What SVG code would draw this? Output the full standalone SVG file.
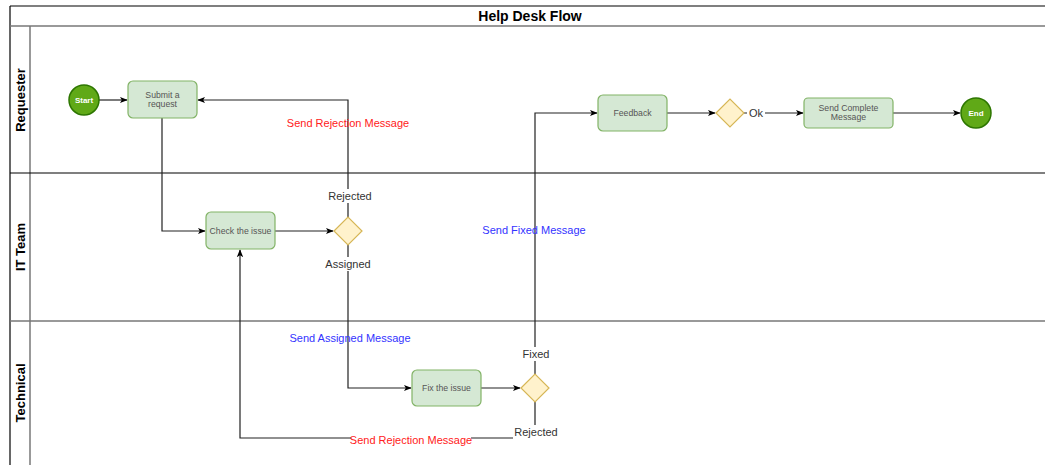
<svg xmlns="http://www.w3.org/2000/svg" width="1045" height="465" viewBox="0 0 1045 465">
<style>
.lane{fill:none;stroke:#000;stroke-width:1.2}
.lg{fill:none;stroke:#777;stroke-width:1.5}
.lt{font-family:"Liberation Sans",Arial,sans-serif;font-weight:bold;font-size:13px;fill:#000;text-anchor:middle}
.task{fill:#d5e8d4;stroke:#82b366;stroke-width:1.2}
.tt{font-family:"Liberation Sans",Arial,sans-serif;font-size:8.7px;fill:#555;text-anchor:middle}
.gw{fill:#fff2cc;stroke:#d6b656;stroke-width:1.2}
.ev{fill:#60a917;stroke:#2d7600;stroke-width:1.5}
.et{font-family:"Liberation Sans",Arial,sans-serif;font-size:8px;font-weight:bold;fill:#fff;text-anchor:middle}
.c{fill:none;stroke:#222;stroke-width:1.2}
.lb{font-family:"Liberation Sans",Arial,sans-serif;font-size:11px;text-anchor:middle}
.k{fill:#333}
.r{fill:#ff2020}
.b{fill:#3333ff}
</style>
<defs>
<marker id="ah" viewBox="0 0 10 10" refX="9" refY="5" markerWidth="8" markerHeight="8" markerUnits="userSpaceOnUse" orient="auto">
<path d="M0,1 L10,5 L0,9 L2.5,5 Z" fill="#000"/>
</marker>
</defs>
<rect x="0" y="0" width="1045" height="465" fill="#fff"/>
<g id="pool">
<line class="lane" x1="10" y1="6" x2="1045" y2="6"/>
<line class="lane" x1="10" y1="6" x2="10" y2="465"/>
<line class="lg" x1="10" y1="26" x2="1045" y2="26"/>
<line class="lg" x1="30" y1="26" x2="30" y2="465"/>
<line class="lane" x1="10" y1="173" x2="1045" y2="173"/>
<line class="lg" x1="10" y1="321" x2="1045" y2="321"/>
<text x="530" y="21" font-family="'Liberation Sans',Arial,sans-serif" font-size="14" font-weight="bold" text-anchor="middle">Help Desk Flow</text>
<text class="lt" transform="translate(25,100) rotate(-90)">Requester</text>
<text class="lt" transform="translate(25,247) rotate(-90)">IT Team</text>
<text class="lt" transform="translate(25,393) rotate(-90)">Technical</text>
</g>
<g id="connectors">
<line class="c" x1="99" y1="100" x2="127" y2="100" marker-end="url(#ah)"/>
<path class="c" d="M348,217 L348,100 L198,100" marker-end="url(#ah)"/>
<path class="c" d="M162,118 L162,231 L205,231" marker-end="url(#ah)"/>
<line class="c" x1="275" y1="231" x2="333" y2="231" marker-end="url(#ah)"/>
<path class="c" d="M348,245 L348,388 L411,388" marker-end="url(#ah)"/>
<line class="c" x1="481" y1="388" x2="520" y2="388" marker-end="url(#ah)"/>
<path class="c" d="M535,374 L535,113 L597,113" marker-end="url(#ah)"/>
<path class="c" d="M535,402 L535,438 L240,438 L240,250" marker-end="url(#ah)"/>
<line class="c" x1="667" y1="113" x2="715" y2="113" marker-end="url(#ah)"/>
<line class="c" x1="744" y1="113" x2="803" y2="113" marker-end="url(#ah)"/>
<line class="c" x1="893" y1="113" x2="960" y2="113" marker-end="url(#ah)"/>
<text class="lb r" x="348" y="127">Send Rejection Message</text>
<rect x="328" y="189" width="44" height="14" fill="#fff"/>
<text class="lb k" x="350" y="200">Rejected</text>
<rect x="324" y="257" width="48" height="14" fill="#fff"/>
<text class="lb k" x="348" y="268">Assigned</text>
<text class="lb b" x="350" y="342">Send Assigned Message</text>
<text class="lb b" x="534" y="234">Send Fixed Message</text>
<rect x="520" y="347" width="30" height="14" fill="#fff"/>
<text class="lb k" x="536" y="358">Fixed</text>
<rect x="513" y="425" width="46" height="14" fill="#fff"/>
<text class="lb k" x="536" y="436">Rejected</text>
<rect x="351" y="433" width="120" height="14" fill="#fff"/>
<text class="lb r" x="411" y="444">Send Rejection Message</text>
<rect x="747" y="106" width="18" height="14" fill="#fff"/>
<text class="lb k" x="756" y="117">Ok</text>
</g>
<g id="start"><circle class="ev" cx="84" cy="100" r="15"/><text class="et" x="84" y="103">Start</text></g>
<g id="submit"><rect class="task" x="128" y="81" width="69" height="37" rx="5"/><text class="tt" x="162.5" y="98">Submit a</text><text class="tt" x="162.5" y="107">request</text></g>
<g id="check"><rect class="task" x="206" y="212" width="69" height="37" rx="5"/><text class="tt" x="240.5" y="234">Check the issue</text></g>
<g id="gw1"><path class="gw" d="M334,231 L348,217 L362,231 L348,245 Z"/></g>
<g id="fix"><rect class="task" x="412" y="370" width="69" height="36" rx="5"/><text class="tt" x="446.5" y="391">Fix the issue</text></g>
<g id="gw2"><path class="gw" d="M521,388 L535,374 L549,388 L535,402 Z"/></g>
<g id="feedback"><rect class="task" x="598" y="95" width="69" height="36" rx="5"/><text class="tt" x="632.5" y="116">Feedback</text></g>
<g id="gw3"><path class="gw" d="M716,113 L730,99 L744,113 L730,127 Z"/></g>
<g id="complete"><rect class="task" x="804" y="98" width="89" height="30" rx="4"/><text class="tt" x="848.5" y="111">Send Complete</text><text class="tt" x="848.5" y="120">Message</text></g>
<g id="end"><circle class="ev" cx="976" cy="113" r="15"/><text class="et" x="976" y="116">End</text></g>
</svg>
